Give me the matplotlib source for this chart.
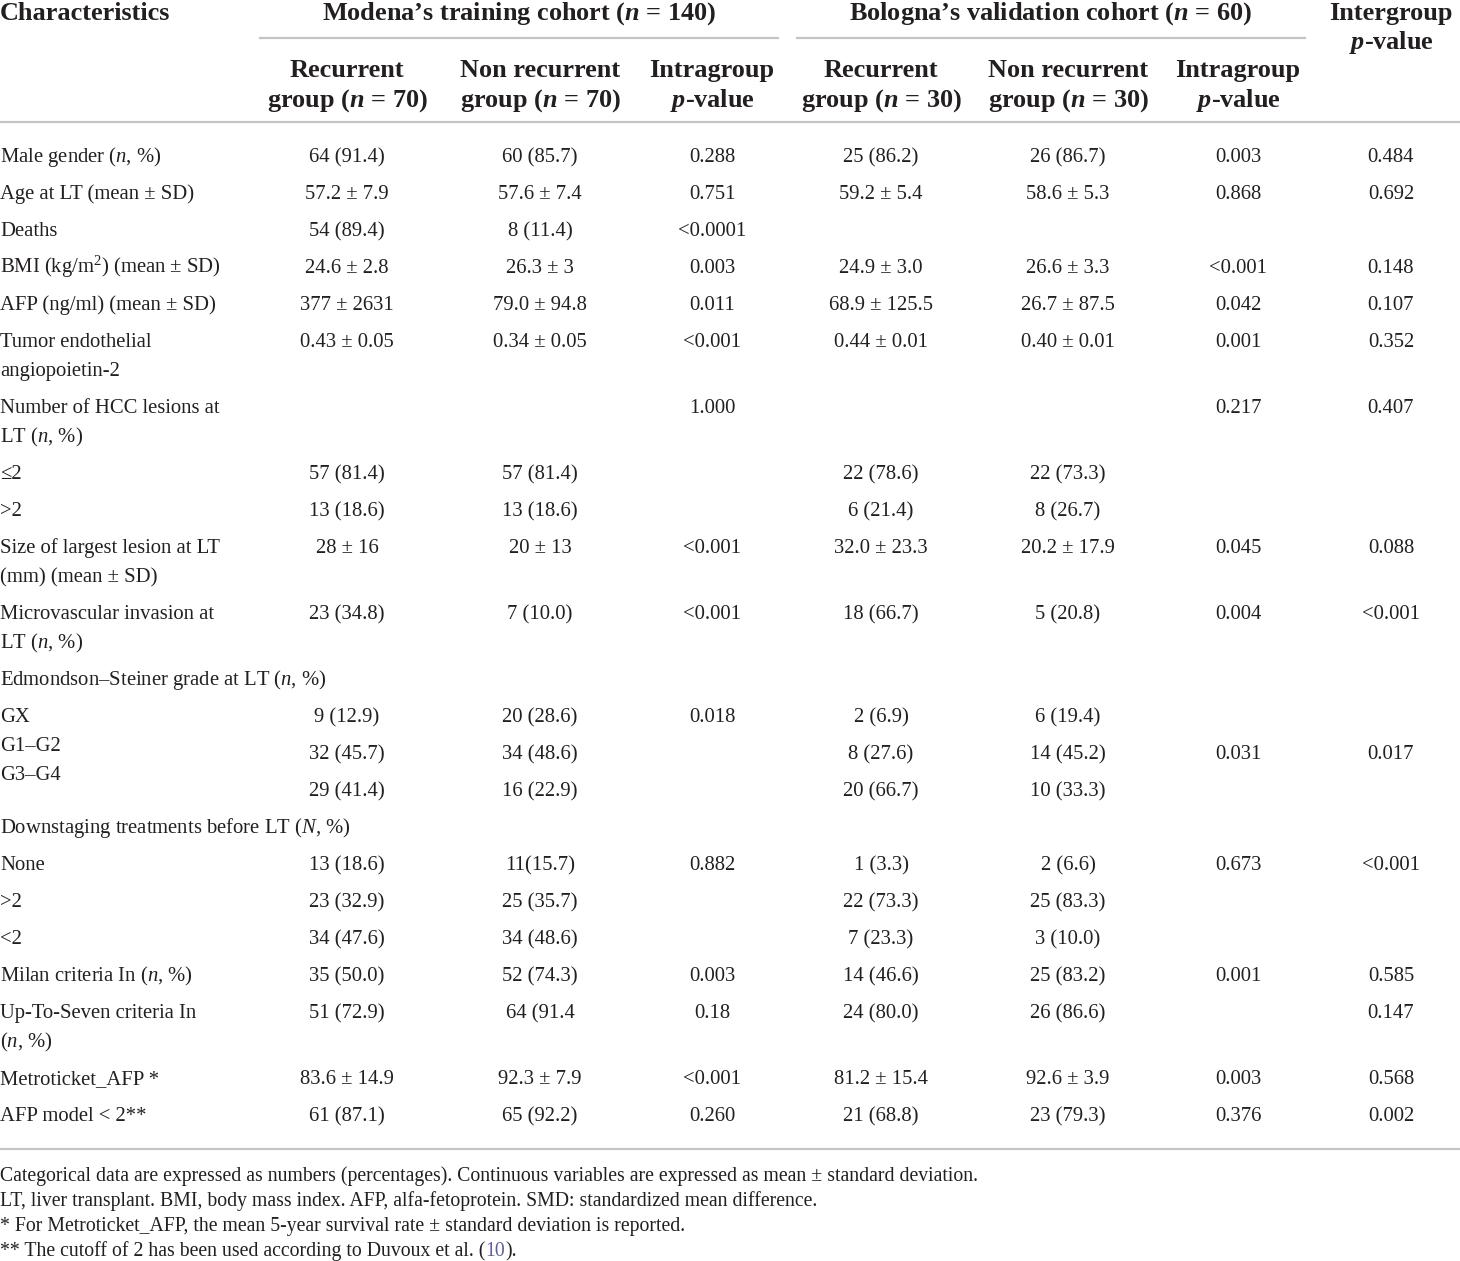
import matplotlib
matplotlib.use("Agg")
import matplotlib.pyplot as plt

plt.rcParams['font.family'] = ['Liberation Serif', 'DejaVu Serif']
plt.rcParams['mathtext.fontset'] = 'custom'
plt.rcParams['mathtext.rm'] = 'Liberation Serif'
plt.rcParams['mathtext.it'] = 'Liberation Serif:italic'
plt.rcParams['mathtext.bf'] = 'Liberation Serif:bold:italic'
plt.rcParams['text.color'] = '#231f20'

# table content
group_titles = ["Modena\u2019s training cohort ($\\mathbf{n}$ = 140)",
                "Bologna\u2019s validation cohort ($\\mathbf{n}$ = 60)"]
sub_headers = [
    ("Recurrent", "group ($\\mathbf{n}$ = 70)"),
    ("Non recurrent", "group ($\\mathbf{n}$ = 70)"),
    ("Intragroup", "$\\mathbf{p}$-value"),
    ("Recurrent", "group ($\\mathbf{n}$ = 30)"),
    ("Non recurrent", "group ($\\mathbf{n}$ = 30)"),
    ("Intragroup", "$\\mathbf{p}$-value"),
]
inter_header = ("Intergroup", "$\\mathbf{p}$-value")

labels = [
    "Male gender ($n$, %)",
    "Age at LT (mean \u00b1 SD)",
    "Deaths",
    "BMI (kg/m$^2$) (mean \u00b1 SD)",
    "AFP (ng/ml) (mean \u00b1 SD)",
    "Tumor endothelial\nangiopoietin-2",
    "Number of HCC lesions at\nLT ($n$, %)",
    "\u22642",
    ">2",
    "Size of largest lesion at LT\n(mm) (mean \u00b1 SD)",
    "Microvascular invasion at\nLT ($n$, %)",
    "Edmondson\u2013Steiner grade at LT ($n$, %)",
    "GX",
    "G1\u2013G2",
    "G3\u2013G4",
    "Downstaging treatments before LT ($N$, %)",
    "None",
    ">2",
    "<2",
    "Milan criteria In ($n$, %)",
    "Up-To-Seven criteria In\n($n$, %)",
    "Metroticket_AFP *",
    "AFP model < 2**",
]
# rows whose labels sit in one packed block (grade sub rows)
grade_rows = [12, 13, 14]

mod_rec = ["64 (91.4)", "57.2 \u00b1 7.9", "54 (89.4)", "24.6 \u00b1 2.8", "377 \u00b1 2631",
           "0.43 \u00b1 0.05", "", "57 (81.4)", "13 (18.6)", "28 \u00b1 16", "23 (34.8)", "",
           "9 (12.9)", "32 (45.7)", "29 (41.4)", "", "13 (18.6)", "23 (32.9)", "34 (47.6)",
           "35 (50.0)", "51 (72.9)", "83.6 \u00b1 14.9", "61 (87.1)"]
mod_non = ["60 (85.7)", "57.6 \u00b1 7.4", "8 (11.4)", "26.3 \u00b1 3", "79.0 \u00b1 94.8",
           "0.34 \u00b1 0.05", "", "57 (81.4)", "13 (18.6)", "20 \u00b1 13", "7 (10.0)", "",
           "20 (28.6)", "34 (48.6)", "16 (22.9)", "", "11(15.7)", "25 (35.7)", "34 (48.6)",
           "52 (74.3)", "64 (91.4", "92.3 \u00b1 7.9", "65 (92.2)"]
mod_p = ["0.288", "0.751", "<0.0001", "0.003", "0.011", "<0.001", "1.000", "", "", "<0.001",
         "<0.001", "", "0.018", "", "", "", "0.882", "", "", "0.003", "0.18", "<0.001", "0.260"]
bol_rec = ["25 (86.2)", "59.2 \u00b1 5.4", "", "24.9 \u00b1 3.0", "68.9 \u00b1 125.5",
           "0.44 \u00b1 0.01", "", "22 (78.6)", "6 (21.4)", "32.0 \u00b1 23.3", "18 (66.7)", "",
           "2 (6.9)", "8 (27.6)", "20 (66.7)", "", "1 (3.3)", "22 (73.3)", "7 (23.3)",
           "14 (46.6)", "24 (80.0)", "81.2 \u00b1 15.4", "21 (68.8)"]
bol_non = ["26 (86.7)", "58.6 \u00b1 5.3", "", "26.6 \u00b1 3.3", "26.7 \u00b1 87.5",
           "0.40 \u00b1 0.01", "", "22 (73.3)", "8 (26.7)", "20.2 \u00b1 17.9", "5 (20.8)", "",
           "6 (19.4)", "14 (45.2)", "10 (33.3)", "", "2 (6.6)", "25 (83.3)", "3 (10.0)",
           "25 (83.2)", "26 (86.6)", "92.6 \u00b1 3.9", "23 (79.3)"]
bol_p = ["0.003", "0.868", "", "<0.001", "0.042", "0.001", "0.217", "", "", "0.045",
         "0.004", "", "", "0.031", "", "", "0.673", "", "", "0.001", "", "0.003", "0.376"]
inter_p = ["0.484", "0.692", "", "0.148", "0.107", "0.352", "0.407", "", "", "0.088",
           "<0.001", "", "", "0.017", "", "", "<0.001", "", "", "0.585", "0.147", "0.568", "0.002"]

footnotes = [
    "Categorical data are expressed as numbers (percentages). Continuous variables are expressed as mean \u00b1 standard deviation.",
    "LT, liver transplant. BMI, body mass index. AFP, alfa-fetoprotein. SMD: standardized mean difference.",
    "* For Metroticket_AFP, the mean 5-year survival rate \u00b1 standard deviation is reported.",
    "** The cutoff of 2 has been used according to Duvoux et al. (",
]

columns = [mod_rec, mod_non, mod_p, bol_rec, bol_non, bol_p, inter_p]
col_x = [347, 540, 712, 881, 1068, 1238, 1391]

# layout (pixels)
W, H = 1460, 1261
row_step = 37
line_step = 29
body_fs = 14.9
head_fs = 18.9
foot_fs = 14.2
body_off = 7
head_off = 8
rule_color = '#c4c4c4'

fig = plt.figure(figsize=(W / 100, H / 100), dpi=100)
ax = fig.add_axes([0, 0, 1, 1])
ax.set_xlim(0, W)
ax.set_ylim(H, 0)
ax.axis('off')


def head(x, y, s, ha='center'):
    ax.text(x, y + head_off, s, fontsize=head_fs, fontweight='bold', ha=ha, va='baseline')


def body(x, y, s, ha='left', fs=body_fs, **kw):
    return ax.text(x, y + body_off, s, fontsize=fs, ha=ha, va='baseline', **kw)


# header
head(0, 12, "Characteristics", ha='left')
head(519, 12, group_titles[0])
head(1051, 12, group_titles[1])
ax.plot([260, 778], [38, 38], color=rule_color, lw=1.6)
ax.plot([797, 1305], [38, 38], color=rule_color, lw=1.6)
for x, (l1, l2) in zip(col_x[:6], sub_headers):
    head(x, 69, l1)
    head(x, 99, l2)
head(col_x[6], 12, inter_header[0])
head(col_x[6], 41, inter_header[1])
ax.plot([0, W], [122, 122], color=rule_color, lw=1.6)

# body rows
y = 155
for i, label in enumerate(labels):
    n_lines = label.count("\n") + 1
    if i == grade_rows[0]:
        for k, r in enumerate(grade_rows):
            body(0, y + k * line_step, labels[r])
    elif i not in grade_rows:
        for k, part in enumerate(label.split("\n")):
            body(0, y + k * line_step, part)
    for x, col in zip(col_x, columns):
        if col[i]:
            body(x, y, col[i], ha='center')
    y += row_step + line_step * (n_lines - 1)

bottom = y - row_step + 35
ax.plot([0, W], [bottom, bottom], color=rule_color, lw=1.6)

# footnotes
fy = bottom + 25
last = None
for note in footnotes:
    last = body(0, fy, note, fs=foot_fs)
    fy += 25
fy -= 25
fig.canvas.draw()
bb = last.get_window_extent()
x_end = ax.transData.inverted().transform((bb.x1, bb.y0))[0]
ref = body(x_end, fy, "10", fs=foot_fs, color='#5b5ea6')
fig.canvas.draw()
bb = ref.get_window_extent()
x_end = ax.transData.inverted().transform((bb.x1, bb.y0))[0]
body(x_end, fy, ").", fs=foot_fs)

fig.savefig("out.png", dpi=100)
